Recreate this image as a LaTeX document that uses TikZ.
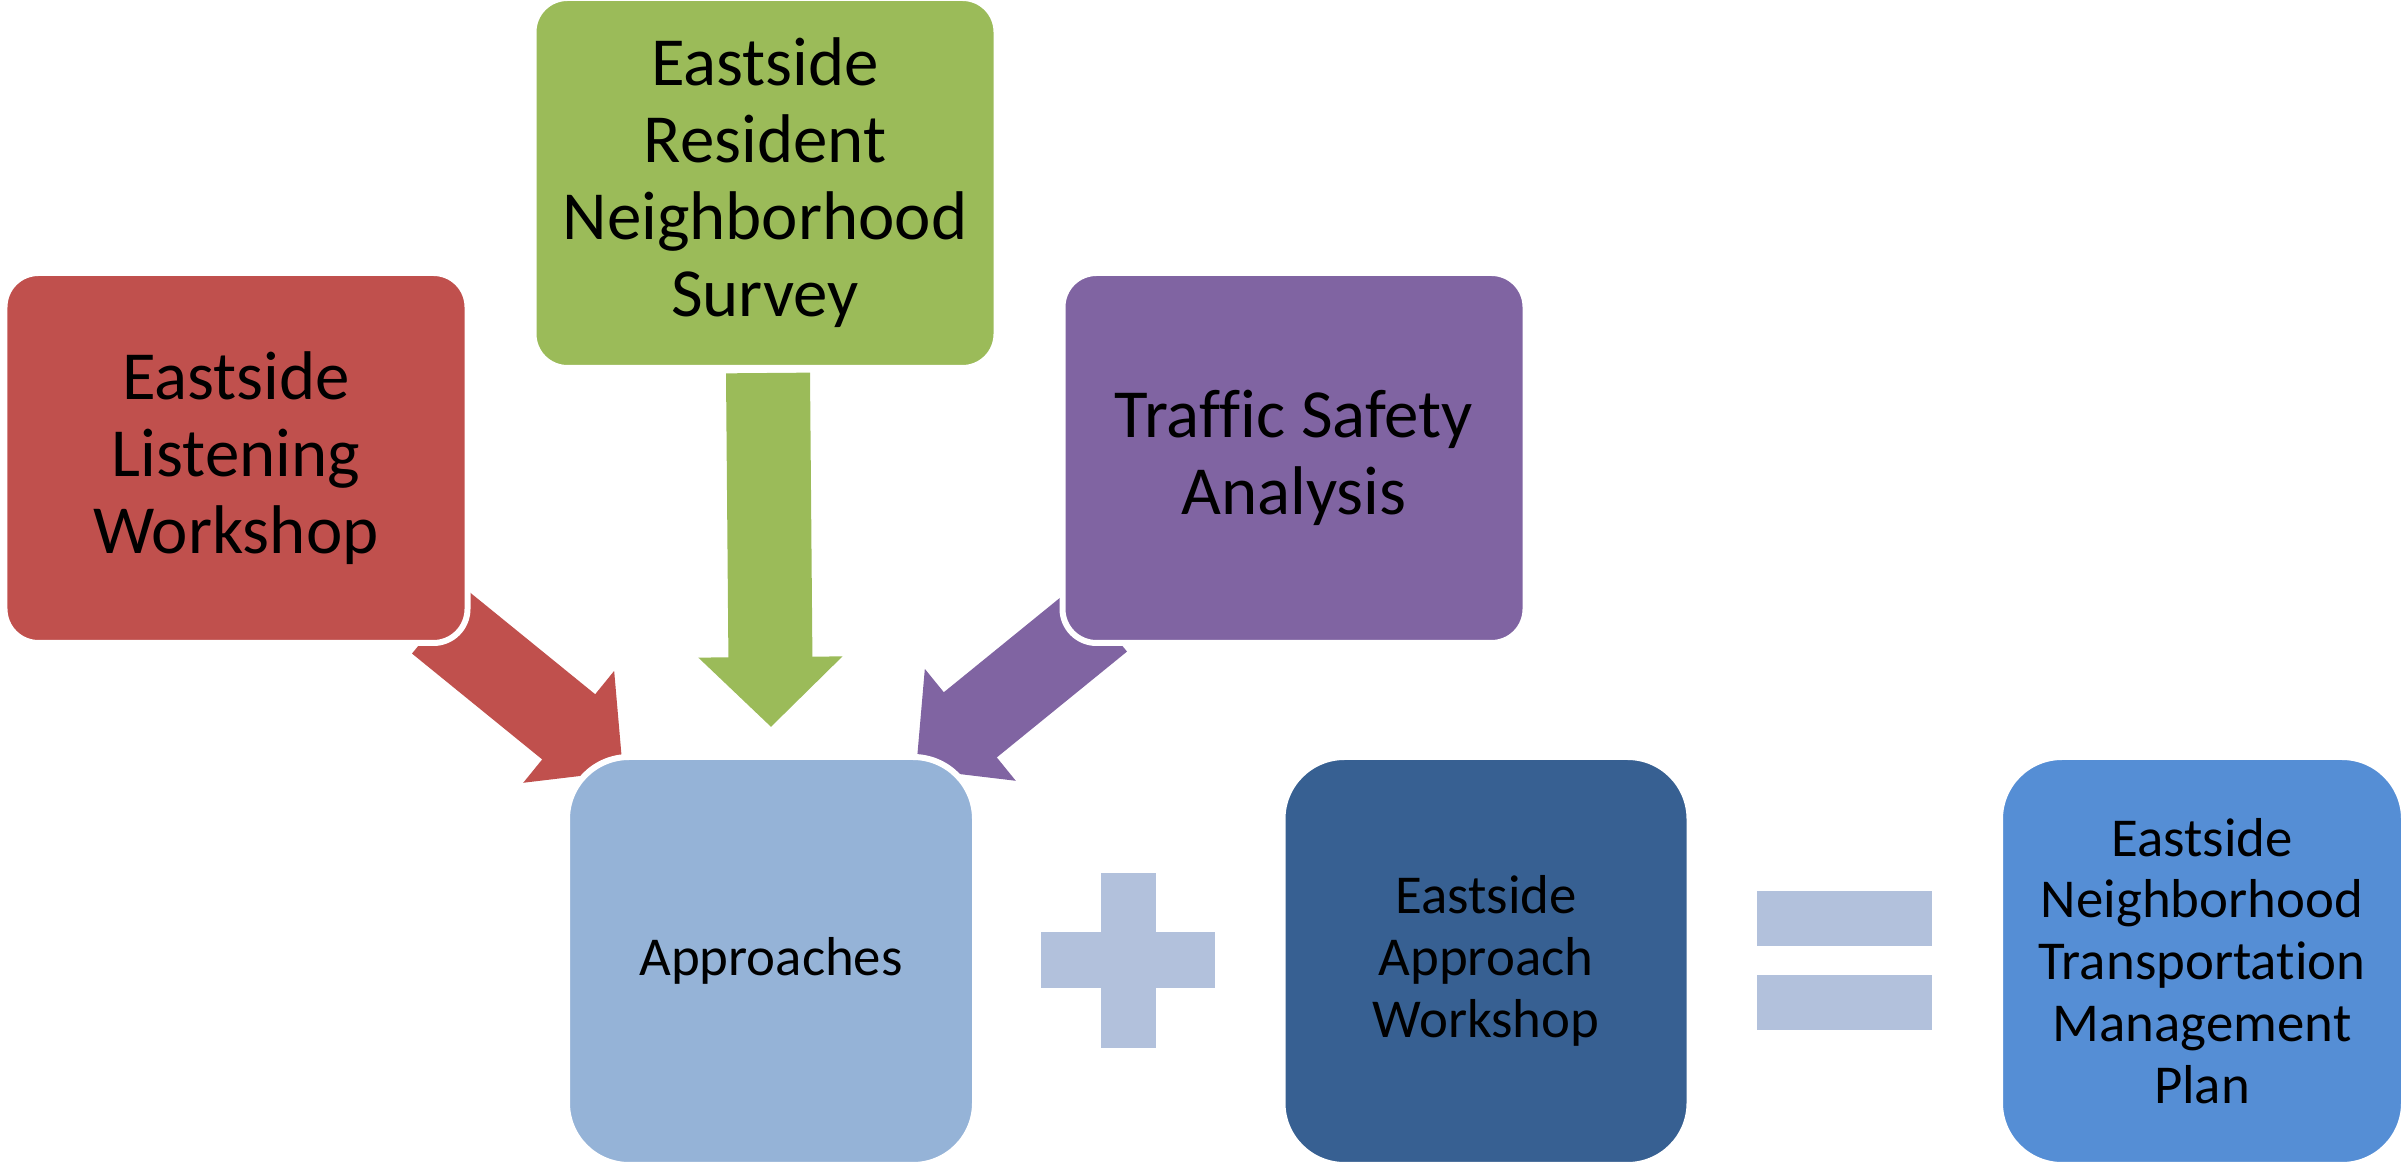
\documentclass[tikz,border=0pt]{standalone}
\usepackage{fontspec}
\setmainfont{Carlito}[Ligatures={NoCommon}]
\usetikzlibrary{arrows.meta,backgrounds}

\definecolor{listenred}{HTML}{C0504D}
\definecolor{surveygreen}{HTML}{9BBB59}
\definecolor{trafficpurple}{HTML}{8064A2}
\definecolor{approachblue}{HTML}{95B3D7}
\definecolor{workshopblue}{HTML}{376092}
\definecolor{planblue}{HTML}{558ED5}
\definecolor{signblue}{HTML}{B2C1DC}

\begin{document}
\begin{tikzpicture}[
  box/.style={rectangle, draw=white, line width=0.06cm, outer sep=0pt, inner sep=0pt, align=center, text=black},
  topbox/.style={box, rounded corners=0.34cm, minimum width=4.63cm, minimum height=3.70cm,
    font=\fontsize{19.6}{21.9}\selectfont},
  lowbox/.style={box, rounded corners=0.62cm, minimum width=4.07cm, minimum height=4.08cm,
    font=\fontsize{15.6}{17.6}\selectfont},
  fatarrow/.style={line width=0.84cm, -{Triangle[length=0.70cm, width=1.40cm]}},
  sign/.style={fill=signblue}]
  \useasboundingbox (0, 0) rectangle (24.04, 11.66);

  % sources
  \draw (2.36, 7.08)  node[topbox, fill=listenred] (listen) {Eastside\\Listening\\Workshop};
  \draw (7.65, 9.83)  node[topbox, fill=surveygreen, minimum height=3.70cm] (survey) {Eastside\\Resident\\Neighborhood\\Survey};
  \draw (12.94, 7.08) node[topbox, fill=trafficpurple] (traffic) {Traffic Safety\\Analysis};

  % bottom row
  \draw (7.71, 2.05)  node[lowbox, fill=approachblue, minimum width=4.08cm] (approach) {Approaches};
  \draw (14.86, 2.05) node[lowbox, fill=workshopblue] (workshop) {Eastside\\Approach\\Workshop};
  \draw (22.02, 2.05) node[lowbox, fill=planblue, minimum width=4.04cm] (plan) {Eastside\\Neighborhood\\Transportation\\Management\\Plan};

  % block arrows, behind the boxes
  \begin{scope}[on background layer]
    \draw[fatarrow, color=listenred] ([shift={(-0.29,0.22)}]listen.south east) -- ([shift={(0.56,-0.14)}]approach.north west);
    \draw[fatarrow, color=surveygreen] ([shift={(0.03,-0.05)}]survey.south) -- ([yshift=0.30cm]approach.north);
    \draw[fatarrow, color=trafficpurple] ([shift={(0.38,0.24)}]traffic.south west) -- ([shift={(-0.59,-0.12)}]approach.north east);
  \end{scope}

  % plus
  \fill[sign] (10.41, 1.78) rectangle (12.15, 2.34);
  \fill[sign] (11.01, 1.18) rectangle (11.56, 2.93);
  % equals
  \fill[sign] (17.57, 2.20) rectangle (19.32, 2.75);
  \fill[sign] (17.57, 1.36) rectangle (19.32, 1.91);
\end{tikzpicture}
\end{document}
